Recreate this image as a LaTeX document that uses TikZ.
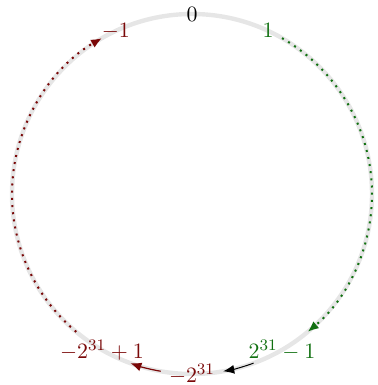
\documentclass[tikz,border=0pt,11pt]{standalone}
\usetikzlibrary{arrows.meta}
\definecolor{ringGray}{HTML}{E6E6E6}
\definecolor{posGreen}{HTML}{107010}
\definecolor{negRed}{HTML}{7A0808}

\begin{document}
\begin{tikzpicture}[
    dotarc/.style={line width=1pt,dash pattern=on 1pt off 2.6pt},
    tip/.style={-{Latex[length=5.5pt,width=4.5pt]}}]
  \useasboundingbox (-96pt,-95.5pt) rectangle (93pt,97pt);
  \draw[ringGray,line width=2.2pt] (0,0) circle[radius=90pt];
  % points on the ring
  \coordinate (gA) at (60:90pt);
  \coordinate (kA) at (-70:90pt);
  \coordinate (rA) at (-100:90pt);
  \coordinate (dA) at (230:90pt);
  \draw[posGreen,dotarc,tip] (gA) arc[start angle=60,end angle=-50,radius=90pt];
  \draw[black,line width=0.5pt,tip] (kA) arc[start angle=-70,end angle=-80,radius=90pt];
  \draw[negRed,line width=0.6pt,tip] (rA) arc[start angle=-100,end angle=-110,radius=90pt];
  \draw[negRed,dotarc,tip] (dA) arc[start angle=230,end angle=120,radius=90pt];
  % labels
  \node (zero) at (90:90pt) {$0$};
  \node[posGreen] (one) at (65:90pt) {$1$};
  \node[posGreen] (maxint) at (-60:90pt) {$2^{31}-1$};
  \node[negRed] (minint) at (-90:90pt) {$-2^{31}$};
  \node[negRed] (minone) at (-120:90pt) {$-2^{31}+1$};
  \node[negRed] (mone) at (115:90pt) {$-1$};
\end{tikzpicture}
\end{document}
